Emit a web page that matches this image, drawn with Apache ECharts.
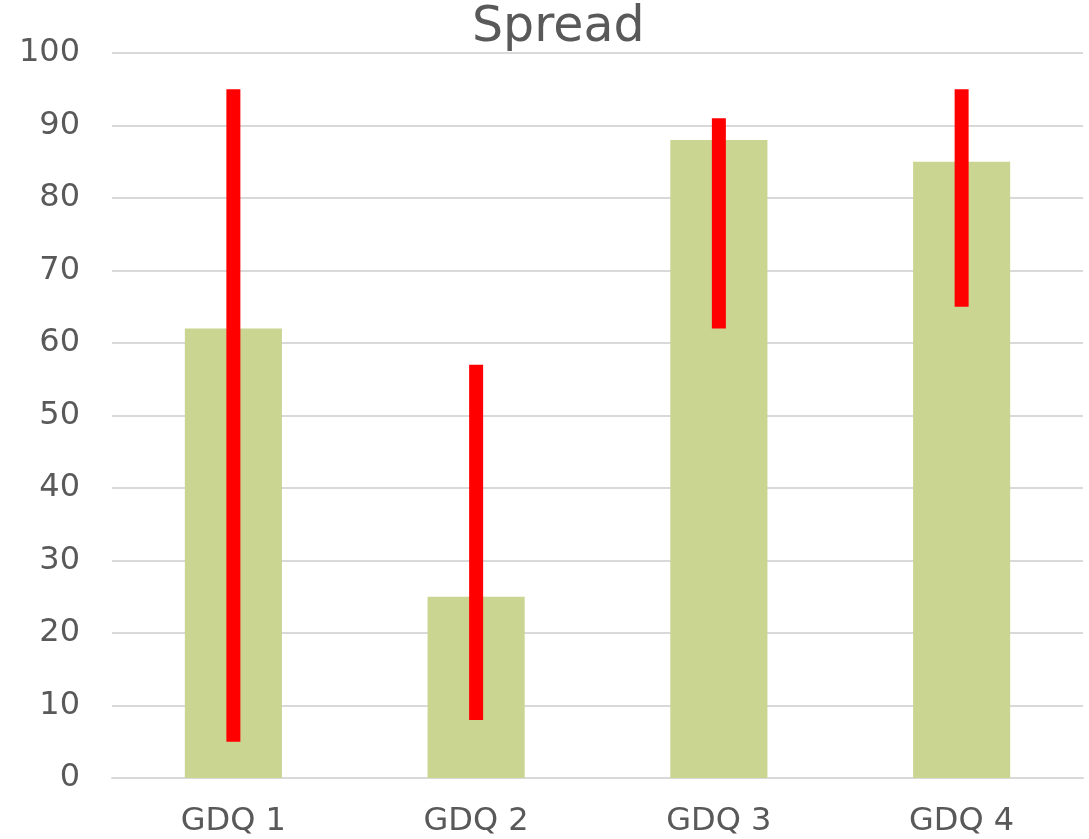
<!DOCTYPE html>
<html>
<head>
<meta charset="utf-8">
<script src="https://cdn.jsdelivr.net/npm/echarts@6/dist/echarts.min.js"></script>
<style>html,body{margin:0;padding:0;background:#fff}#c{width:1089px;height:839px}</style>
</head>
<body>
<div id="c"></div>
<script>
const categories = ['GDQ 1', 'GDQ 2', 'GDQ 3', 'GDQ 4'];
const barValues = [62, 25, 88, 85];
const spreadLow = [5, 8, 62, 65];
const spreadHigh = [95, 57, 91, 95];

const chart = echarts.init(document.getElementById('c'), null, {renderer: 'canvas'});
const font = '"DejaVu Sans", Verdana, sans-serif';
chart.setOption({
  animation: false,
  title: {
    text: 'Spread', left: 472, top: 4, padding: 0,
    textStyle: {fontFamily: font, fontSize: 49, fontWeight: 'normal', color: '#595959'}
  },
  grid: {left: 112, right: 6, top: 53, bottom: 61, containLabel: false},
  xAxis: {
    type: 'category', data: categories,
    axisLine: {lineStyle: {color: '#d9d9d9', width: 2}},
    axisTick: {show: false},
    axisLabel: {fontFamily: font, fontSize: 32, color: '#595959', margin: 28}
  },
  yAxis: {
    type: 'value', min: 0, max: 100, interval: 10,
    axisLine: {show: false}, axisTick: {show: false},
    splitLine: {lineStyle: {color: '#d9d9d9', width: 2}},
    axisLabel: {fontFamily: font, fontSize: 32, color: '#595959', margin: 32}
  },
  series: [
    {
      type: 'bar', data: barValues, barWidth: '40%',
      itemStyle: {color: '#c9d591'}
    },
    {
      type: 'custom',
      data: categories.map((c, i) => [i, spreadLow[i], spreadHigh[i]]),
      encode: {x: 0, y: [1, 2]},
      z: 5,
      renderItem: function (params, api) {
        const lo = api.coord([api.value(0), api.value(1)]);
        const hi = api.coord([api.value(0), api.value(2)]);
        const w = 14;
        return {
          type: 'rect',
          shape: {x: lo[0] - w / 2, y: hi[1], width: w, height: lo[1] - hi[1]},
          style: {fill: '#ff0000'}
        };
      }
    }
  ]
});
</script>
</body>
</html>
